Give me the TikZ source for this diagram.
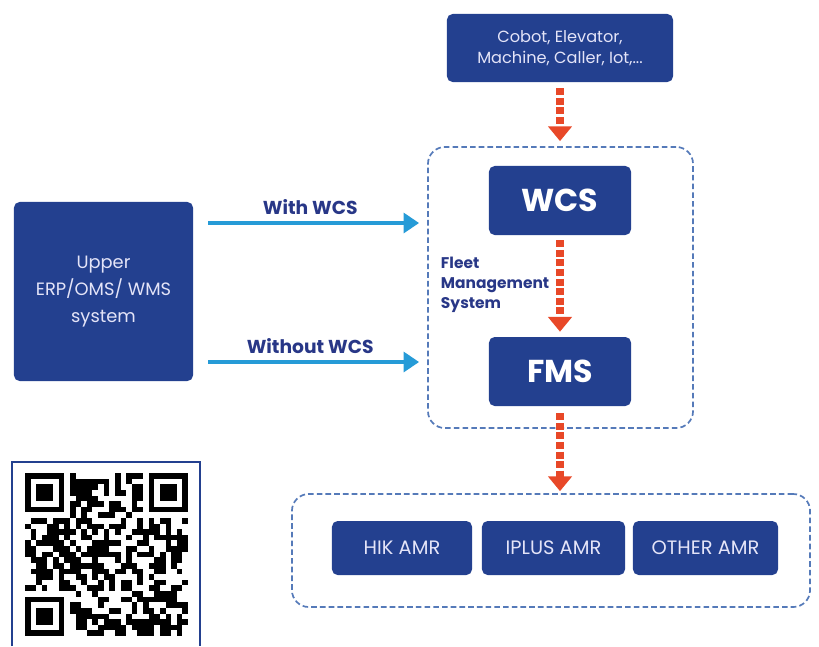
\documentclass[tikz,border=0pt]{standalone}
\usepackage{fontspec}
\setmainfont{Poppins}
\usetikzlibrary{arrows.meta, positioning}

\definecolor{boxblue}{RGB}{35,64,143}
\definecolor{txtblue}{RGB}{40,55,135}
\definecolor{dashblue}{RGB}{85,122,185}
\definecolor{flowred}{RGB}{232,72,40}
\definecolor{flowcyan}{RGB}{38,155,215}
\definecolor{lighttxt}{RGB}{228,228,248}

\begin{document}
\begin{tikzpicture}[x=0.025cm,y=-0.025cm,
	blk/.style={fill=boxblue, rounded corners=4pt, text=lighttxt, align=center, inner sep=0pt},
	big/.style={blk, text=white, font=\fontsize{22.5}{24}\selectfont\bfseries, minimum width=3.55cm, minimum height=1.725cm},
	amr/.style={blk, font=\fontsize{13.8}{15}\selectfont, minimum height=1.35cm},
	grp/.style={draw=dashblue, line width=1.2pt, dash pattern=on 4pt off 2.2pt, rounded corners=12pt, inner sep=0pt},
	flow/.style={draw=flowred, line width=5.5pt, dash pattern=on 5pt off 1.8pt, -{Triangle[width=16.5pt,length=10.5pt]}},
	feed/.style={draw=flowcyan, line width=3.5pt, -{Triangle[width=14pt,length=11pt]}},
	lbl/.style={text=txtblue, font=\fontsize{13.3}{14}\selectfont\bfseries}]
	\useasboundingbox (0,0) rectangle (819,646);
	
	% top
	\node[blk, font=\fontsize{11.5}{15}\selectfont, minimum width=5.65cm, minimum height=1.7cm] (dev) at (560,48) {Cobot, Elevator,\\Machine, Caller, Iot,...};
	
	% fleet management
	\node[grp, minimum width=6.625cm, minimum height=7.025cm] (fleet) at (560.5,287.5) {};
	\node[big] (wcs) at (560,200.5) {WCS};
	\node[big] (fms) at (560,371.5) {FMS};
	\node[lbl, anchor=west, align=left, font=\fontsize{11}{14.2}\selectfont\bfseries] (fname) at (436,285) {Fleet\\Management\\System};
	
	% upper system
	\node[blk, font=\fontsize{12.7}{19}\selectfont, minimum width=4.475cm, minimum height=4.475cm] (upper) at (103.5,291.5) {Upper\\ERP/OMS/ WMS\\system};
	
	% robots
	\node[grp, minimum width=12.95cm, minimum height=2.825cm] (robots) at (551,550.5) {};
	\node[amr, minimum width=3.5cm] (hik) at (402,548) {HIK AMR};
	\node[amr, minimum width=3.575cm] (iplus) at (553.5,548) {IPLUS AMR};
	\node[amr, minimum width=3.625cm] (other) at (705.5,548) {OTHER AMR};
	
	% red arrows
	\draw[flow, shorten <=0.15cm, shorten >=0.125cm] (dev.south) -- (dev.south |- fleet.north);
	\draw[flow, shorten <=0.125cm, shorten >=0.125cm] (wcs) -- (fms);
	\draw[flow, shorten <=0.175cm, shorten >=0.05cm] (fms) -- (fms |- robots.north);
	
	% blue arrows
	\draw[feed, shorten <=0.375cm, shorten >=0.2cm] (upper.east |- 0,223) -- node[lbl, above=1pt] (with) {With WCS} (fleet.west |- 0,223);
	\draw[feed, shorten <=0.375cm, shorten >=0.2cm] (upper.east |- 0,362) -- node[lbl, above=1pt] (without) {Without WCS} (fleet.west |- 0,362);
	
	% qr code
	\draw[boxblue, line width=1.1pt] (12,646) -- (12,462) -- (200,462) -- (200,646);
	\begin{scope}[shift={(25,473)}, x=0.1405cm, y=-0.1405cm]
		\pgfmathsetseed{23}
		\foreach \i in {0,...,28} {
			\foreach \j in {0,...,28} {
				\pgfmathtruncatemacro\infd{or(and(\i<8,\j<8), or(and(\i>20,\j<8), and(\i<8,\j>20)))}
				\pgfmathtruncatemacro\bit{rnd<0.56}
				\ifnum\infd=0
					\ifnum\bit=1 \fill (\i,\j) rectangle +(1,1); \fi
				\fi
			}
		}
		\foreach \fx/\fy in {0/0, 22/0, 0/22} {
			\fill (\fx,\fy) rectangle +(7,7);
			\fill[white] (\fx+1,\fy+1) rectangle +(5,5);
			\fill (\fx+2,\fy+2) rectangle +(3,3);
		}
	\end{scope}
\end{tikzpicture}
\end{document}
